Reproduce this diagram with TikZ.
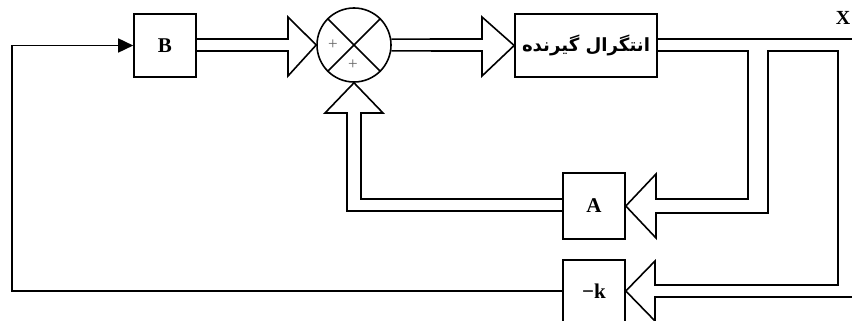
\documentclass[tikz,border=0pt]{standalone}
\usepackage{fontspec}
\usepackage{graphicx}
\setmainfont{Liberation Serif}
\newfontfamily\arabicfont[Script=Arabic]{DejaVu Sans}
\TeXXeTstate=1
\usetikzlibrary{arrows.meta}
\begin{document}
\begin{tikzpicture}[x=1pt,y=-1pt,
  every path/.style={line width=1.6pt,line join=miter},
  blockbox/.style={draw,line width=1.6pt,rectangle,inner sep=0pt,font=\fontsize{21}{24}\selectfont\bfseries},
  sumcirc/.style={draw,line width=1.6pt,circle,inner sep=0pt,minimum size=74pt},
  plussign/.style={text=black!60,inner sep=0pt,font=\fontsize{17}{18}\selectfont},
  conn/.style={draw,line width=1.6pt}]
\useasboundingbox (0,0) rectangle (852,321);
\fill[white] (0,0) rectangle (852,321);
% nodes
\node[blockbox,minimum width=62pt,minimum height=63pt] (B) at (165,45.5) {B};
\node[sumcirc] (S) at (354,45) {};
\node[blockbox,minimum width=142pt,minimum height=63pt] (I) at (586,45.5)
  {\resizebox{128pt}{!}{\arabicfont\bfseries\beginR انتگرال گیرنده\endR}};
\node[blockbox,minimum width=62pt,minimum height=66pt] (A) at (594,206) {A};
\node[blockbox,minimum width=62pt,minimum height=62pt] (K) at (594,291) {−k};
\node[anchor=east,inner sep=0pt,font=\fontsize{20}{24}\selectfont\bfseries] (X) at (851,18) {X};
% cross in summing junction
\draw (S.45) -- (S.225);
\draw (S.135) -- (S.315);
\node[plussign] (p1) at (333,45) {+};
\node[plussign] (p2) at (353,65) {+};
% B -> S (block arrow)
\draw (B.east |- 0,39) -- (288,39) -- (288,17) -- (S.west) -- (288,76) -- (288,51) -- (B.east |- 0,51);
% S -> I (block arrow)
\draw (S.9.5) -- (482,39) -- (482,17) -- (I.west) -- (482,76) -- (482,51) -- (S.-9.5);
% output X
\coordinate (xout) at (853,39);
\draw (I.east |- 0,39) -- (xout);
% branches to A and -k
\coordinate (kout) at (853,297);
\draw (I.east |- 0,51) -- (748,51) -- (748,199) -- (656,199) -- (656,174) -- (A.east)
  -- (656,238) -- (656,213) -- (768,213) -- (768,51) -- (838,51) -- (838,285)
  -- (655,285) -- (655,261) -- (K.east) -- (655,321) -- (655,297) -- (kout);
% A -> S (block arrow from below)
\draw (A.west |- 0,199) -- (361,199) -- (361,113) -- (383,113) -- (S.south)
  -- (325,113) -- (347,113) -- (347,211) -- (A.west |- 0,211);
% -k -> B
\draw[-{Triangle[length=15pt,width=14pt]}] (K.west) -- (K.west -| 12,0) -- (B.west -| 12,0) -- (B.west);
\end{tikzpicture}
\end{document}
